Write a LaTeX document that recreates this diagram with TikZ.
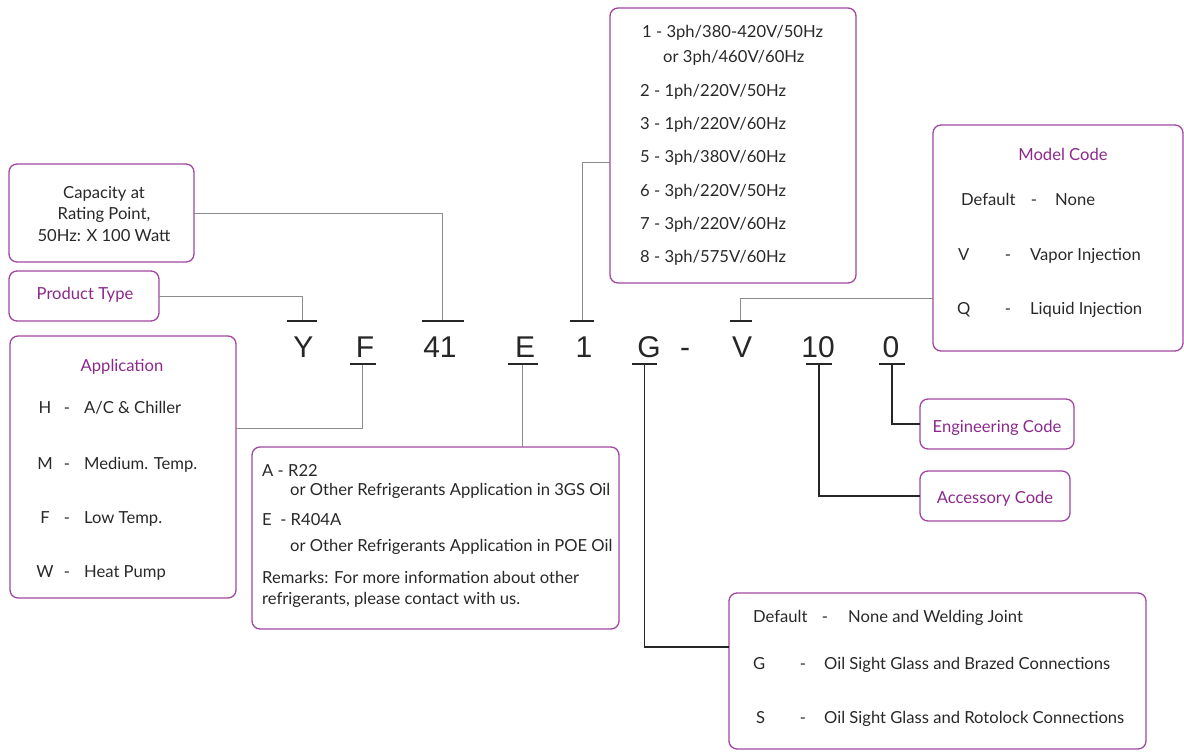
\documentclass[tikz,border=0pt]{standalone}
\usepackage{fontspec}
\setmainfont{Lato}
\newfontfamily\codefont{Liberation Sans}
\definecolor{pur}{RGB}{160,70,160}
\definecolor{ptext}{RGB}{140,40,140}
\definecolor{txt}{RGB}{40,40,40}
\begin{document}
\begin{tikzpicture}[x=1pt,y=-1pt,
 box/.style={draw=pur, line width=1.3pt, rounded corners=8pt, inner sep=0pt, outer sep=0pt, anchor=north west},
 t/.style={anchor=base west, inner sep=0pt, text=txt, font=\fontsize{16.6}{21.5}\selectfont},
 tc/.style={t, anchor=base},
 ptitle/.style={tc, text=ptext},
 code/.style={anchor=base, inner sep=0pt, text=black!85, font=\codefont\fontsize{30}{36}\selectfont},
 gline/.style={draw=black!45, line width=1pt},
 kline/.style={draw=black!85, line width=1.1pt},
 tick/.style={draw=black!85, line width=1.1pt}]
\useasboundingbox (0,0) rectangle (1184,752);

% boxes
\node[box, minimum width=185pt, minimum height=98pt] (cap) at (9,164) {};
\node[box, minimum width=150pt, minimum height=50pt] (prod) at (9,271) {};
\node[box, minimum width=226pt, minimum height=262pt] (app) at (10,336) {};
\node[box, minimum width=367pt, minimum height=182pt] (ref) at (252,447) {};
\node[box, minimum width=246pt, minimum height=275pt] (pow) at (610,8) {};
\node[box, minimum width=250pt, minimum height=226pt] (model) at (933,125) {};
\node[box, minimum width=417pt, minimum height=156pt] (acc) at (729,593) {};
\node[box, minimum width=154pt, minimum height=50pt] (eng) at (920,399) {};
\node[box, minimum width=150pt, minimum height=50pt] (accode) at (920,471) {};

% code letters
\node[code] (cY) at (303.5,357) {Y};
\node[code] (cF) at (365,357) {F};
\node[code] (c41) at (440,357) {41};
\node[code] (cE) at (525,357) {E};
\node[code] (c1) at (584,357) {1};
\node[code] (cG) at (649,357) {G};
\node[code] (cD) at (685,357) {-};
\node[code] (cV) at (742,357) {V};
\node[code] (c10) at (818,357) {10};
\node[code] (c0) at (891,357) {0};

% tick points
\coordinate (tY) at (302,321);
\coordinate (t41) at (442.5,321);
\coordinate (t1) at (582,321);
\coordinate (tV) at (740.5,321);
\coordinate (tF) at (362.6,364);
\coordinate (tE) at (522.5,364);
\coordinate (tG) at (644.6,364);
\coordinate (t10) at (819,364);
\coordinate (t0) at (892,364);

% connectors
\draw[gline] (cap.east) -| (t41);
\draw[gline] (prod.east) -| (tY);
\draw[gline] ([yshift=-16.5pt]pow.west) -| (t1);
\draw[gline] ([yshift=-60pt]model.west) -| (tV);
\draw[gline] ([yshift=39pt]app.east) -| (tF);
\draw[gline] (tE |- ref.north) -- (tE);
\draw[kline] ([yshift=24pt]acc.west) -| (tG);
\draw[kline] (eng.west) -| (t0);
\draw[kline] (accode.west) -| (t10);

% ticks
\draw[tick] ([xshift=-15pt]tY) -- ([xshift=15pt]tY);
\draw[tick] ([xshift=-21pt]t41) -- ([xshift=21pt]t41);
\draw[tick] ([xshift=-12pt]t1) -- ([xshift=12pt]t1);
\draw[tick] ([xshift=-11pt]tV) -- ([xshift=11pt]tV);
\draw[tick] ([xshift=-13pt]tF) -- ([xshift=13pt]tF);
\draw[tick] ([xshift=-15pt]tE) -- ([xshift=15pt]tE);
\draw[tick] ([xshift=-12.5pt]tG) -- ([xshift=12.5pt]tG);
\draw[tick] ([xshift=-13pt]t10) -- ([xshift=13pt]t10);
\draw[tick] ([xshift=-13pt]t0) -- ([xshift=13pt]t0);

% capacity & product type
\node[tc, align=center] (captxt) at (104,241) {Capacity at\\Rating Point,\\50Hz: X 100 Watt};
\node[ptitle] (prodtxt) at (85,299) {Product Type};

% application
\node[ptitle] (apptitle) at (122,371) {Application};
\node[tc] (aH) at (45,413) {H};
\node[tc] (aHd) at (67,413) {-};
\node[t] (aHt) at (84,413) {A/C \& Chiller};
\node[tc] (aM) at (45,469) {M};
\node[tc] (aMd) at (67,469) {-};
\node[t] (aMt) at (84,469) {Medium. Temp.};
\node[tc] (aF) at (45,523) {F};
\node[tc] (aFd) at (67,523) {-};
\node[t] (aFt) at (84,523) {Low Temp.};
\node[tc] (aW) at (45,577) {W};
\node[tc] (aWd) at (67,577) {-};
\node[t] (aWt) at (84,577) {Heat Pump};

% refrigerant
\node[t] (r1) at (262,476) {A - R22};
\node[t] (r2) at (290,495) {or Other Refrigerants Application in 3GS Oil};
\node[t] (r3) at (262,525) {E\ \ - R404A};
\node[t] (r4) at (290,551) {or Other Refrigerants Application in POE Oil};
\node[t] (r5) at (262,583) {Remarks: For more information about other};
\node[t] (r6) at (262,604) {refrigerants, please contact with us.};

% power
\node[t] (p1) at (642,38) {1 - 3ph/380-420V/50Hz};
\node[t] (p1b) at (663,63) {or 3ph/460V/60Hz};
\node[t] (p2) at (640,96.5) {2 - 1ph/220V/50Hz};
\node[t] (p3) at (640,129) {3 - 1ph/220V/60Hz};
\node[t] (p5) at (640,162) {5 - 3ph/380V/60Hz};
\node[t] (p6) at (640,196) {6 - 3ph/220V/50Hz};
\node[t] (p7) at (640,229) {7 - 3ph/220V/60Hz};
\node[t] (p8) at (640,262) {8 - 3ph/575V/60Hz};

% model code
\node[ptitle] (mtitle) at (1063,160) {Model Code};
\node[t] (m1) at (961,205) {Default};
\node[tc] (m1d) at (1034,205) {-};
\node[t] (m1t) at (1055,205) {None};
\node[t] (m2) at (958,260) {V};
\node[tc] (m2d) at (1008,260) {-};
\node[t] (m2t) at (1030,260) {Vapor Injection};
\node[t] (m3) at (957,314) {Q};
\node[tc] (m3d) at (1008,314) {-};
\node[t] (m3t) at (1030,314) {Liquid Injection};

% accessory options
\node[t] (o1) at (753,622) {Default};
\node[tc] (o1d) at (825,622) {-};
\node[t] (o1t) at (848,622) {None and Welding Joint};
\node[t] (o2) at (753,669) {G};
\node[tc] (o2d) at (803,669) {-};
\node[t] (o2t) at (824,669) {Oil Sight Glass and Brazed Connections};
\node[t] (o3) at (756,723) {S};
\node[tc] (o3d) at (803,723) {-};
\node[t] (o3t) at (824,723) {Oil Sight Glass and Rotolock Connections};

% small code boxes
\node[ptitle] (engtxt) at (997,432) {Engineering Code};
\node[ptitle] (acctxt) at (995,503) {Accessory Code};
\end{tikzpicture}
\end{document}
